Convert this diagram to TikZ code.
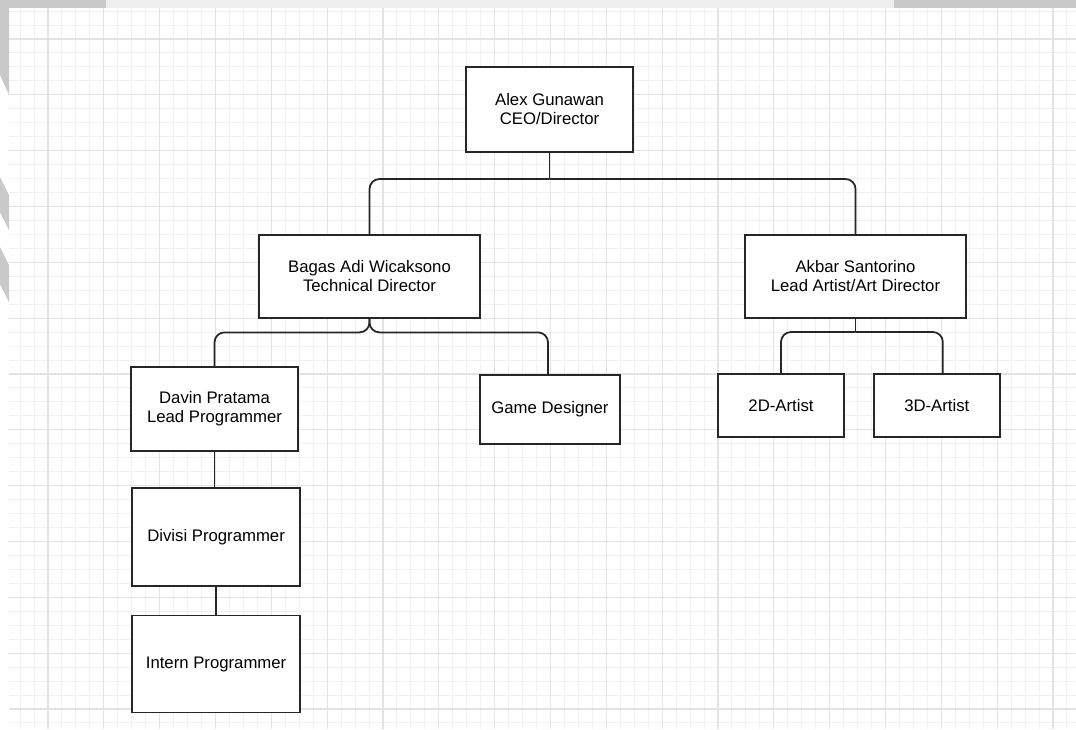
\documentclass[tikz,border=0pt]{standalone}
\usepackage{fontspec}
\setmainfont{Liberation Sans}
\usepackage{tikz}
\usetikzlibrary{positioning}
\definecolor{boxline}{HTML}{262626}
\definecolor{gridminor}{HTML}{F1F1F1}
\definecolor{gridmajor}{HTML}{E3E3E3}
\definecolor{banddark}{HTML}{C9C9C9}
\definecolor{bandlight}{HTML}{EFEFEF}
\tikzset{
  every node/.style={
    font=\fontsize{11.9}{13.5}\selectfont
  },
  member/.style n args={2}{
    shape=rectangle,
    draw=boxline,
    line width=1.25pt,
    fill=white,
    align=center,
    inner sep=0pt,
    minimum width=#1,
    minimum height=#2
  },
  link/.style={
    draw=boxline,
    line width=1.25pt,
    rounded corners=0.25cm
  },
  minorline/.style={draw=gridminor, line width=0.7pt},
  majorline/.style={draw=gridmajor, line width=0.8pt}
}

\begin{document}
\begin{tikzpicture}[x=0.025cm,y=-0.025cm]
    \useasboundingbox (0,0) rectangle (1076,729);
    \fill[white] (0,0) rectangle (1076,729);
    % background grid
    \begin{scope}
      \clip (9,8) rectangle (1076,729);
      \foreach \k in {0,...,80}
        \draw[minorline] ({-7.8+\k*13.958},0) -- ++(0,729);
      \foreach \k in {0,...,55}
        \draw[minorline] (0,{-16.8+\k*13.958}) -- ++(1076,0);
      \foreach \k in {0,...,20}
        \draw[majorline] ({-7.8+\k*55.83},0) -- ++(0,729);
      \foreach \k in {0,...,14}
        \draw[majorline] (0,{-16.8+\k*55.83}) -- ++(1076,0);
    \end{scope}
    % scan edge
    \fill[bandlight] (0,0) rectangle (1076,8);
    \fill[banddark] (0,0) rectangle (106,8);
    \fill[banddark] (894,0) rectangle (1076,8);
    \fill[banddark] (0,0) -- (9,0) -- (9,95) -- (0,75) -- cycle;
    \fill[banddark] (0,177) -- (9,195) -- (9,230) -- (0,212) -- cycle;
    \fill[banddark] (0,247) -- (9,265) -- (9,302) -- (0,284) -- cycle;

    % members
    \node [member={4.175cm}{2.125cm}] (ceo) at (549.5,109.5)
      {Alex Gunawan\\CEO/Director};
    \node [member={5.525cm}{2.075cm}] (techdir) at (369.5,276.5)
      {Bagas Adi Wicaksono\\Technical Director};
    \node [member={5.525cm}{2.075cm}] (artdir) at (855.5,276.5)
      {Akbar Santorino\\Lead Artist/Art Director};
    \node [member={4.175cm}{2.1cm}] (leadprog) at (214.5,409)
      {Davin Pratama\\Lead Programmer};
    \node [member={3.5cm}{1.725cm}] (gamedes) at (550,409.5)
      {Game Designer};
    \node [member={3.15cm}{1.575cm}] (artist2d) at (781,405.5)
      {2D-Artist};
    \node [member={3.15cm}{1.575cm}, right=0.7cm of artist2d] (artist3d)
      {3D-Artist};
    \node [member={4.2cm}{2.45cm}, below=0.875cm of leadprog.south, anchor=north, xshift=0.04cm] (divprog)
      {Divisi Programmer};
    \node [member={4.2cm}{2.425cm}, below=0.7cm of divprog] (internprog)
      {Intern Programmer};

    % connectors
    \coordinate (ceojoin) at (549.5,179);
    \coordinate (artjoin) at (855.5,332);
    \draw[link] (ceo.south) -- (ceojoin);
    \draw[link] (ceojoin) -| (techdir.north);
    \draw[link] (ceojoin) -| (artdir.north);
    \draw[link] (techdir.south) -- ++(0,13.5) -| (leadprog.north);
    \draw[link] (techdir.south) -- ++(0,13.5) -| ([xshift=-0.05cm]gamedes.north);
    \draw[link] (artdir.south) -- (artjoin);
    \draw[link] (artjoin) -| (artist2d.north);
    \draw[link] (artjoin) -| ([xshift=0.15cm]artist3d.north);
    \draw[link] (leadprog.south) -- (leadprog.south |- divprog.north);
    \draw[link] (divprog.south) -- (internprog.north);
\end{tikzpicture}
\end{document}
